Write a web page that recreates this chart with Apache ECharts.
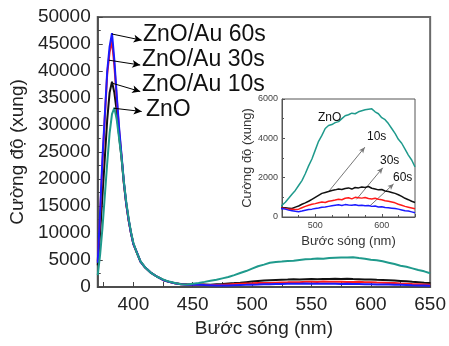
<!DOCTYPE html>
<html>
<head>
<meta charset="utf-8">
<script src="https://cdn.jsdelivr.net/npm/echarts@6/dist/echarts.min.js"></script>
<style>
  html, body { margin: 0; padding: 0; background: #fff; }
  #chart { width: 449px; height: 346px; }
</style>
</head>
<body>
<div id="chart"></div>
<script>
// wavelengths (nm)
var wl = [370, 372, 374, 376, 378, 380, 382, 384, 386, 388, 390, 392, 394, 396, 398, 400, 403, 406, 410, 415, 420, 425, 430, 435, 440, 445,
  450, 455, 460, 465, 470, 475, 480, 485, 490, 495, 500, 505, 510, 515, 520, 525, 530, 535, 540, 545, 550,
  555, 560, 565, 570, 575, 580, 585, 590, 595, 600, 605, 610, 615, 620, 625, 630, 635, 640, 645, 650]

var zno = [2200, 6000, 11000, 17000, 23000, 28500, 32000, 33200, 31000, 27500, 24000, 19500, 15800, 12700, 10200, 8200, 6300, 4800, 3600, 2600, 1900, 1400, 1000, 750, 500, 450,
  600, 750, 950, 1160, 1350, 1600, 1850, 2200, 2600, 2950, 3400, 3850, 4150, 4500, 4650, 4700, 4800, 4850, 5000, 5150, 5200,
  5280, 5250, 5350, 5400, 5450, 5480, 5500, 5350, 5250, 5050, 4950, 4750, 4500, 4250, 3950, 3750, 3450, 3150, 2900, 2550]

var au10 = [4000, 10000, 17000, 24000, 31000, 36000, 38000, 36000, 32500, 28000, 24000, 19200, 15400, 12400, 10000, 8000, 6300, 4700, 3600, 2600, 1900, 1300, 950, 700, 560, 500,
  480, 470, 450, 430, 500, 560, 650, 720, 800, 900, 1000, 1100, 1200, 1250, 1300, 1350, 1380, 1420, 1400, 1450, 1480,
  1420, 1500, 1480, 1530, 1500, 1550, 1460, 1420, 1380, 1400, 1320, 1300, 1250, 1200, 1130, 1050, 950, 880, 800, 740]

var au30 = [4700, 13500, 23000, 31500, 39500, 43500, 45600, 41000, 35000, 29000, 24300, 19300, 15400, 12400, 10000, 8000, 6300, 4700, 3600, 2600, 1900, 1300, 950, 700, 520, 470,
  450, 430, 400, 390, 380, 400, 470, 540, 600, 650, 680, 720, 760, 740, 800, 830, 860, 900, 880, 950, 980,
  920, 1000, 980, 960, 990, 940, 920, 950, 900, 880, 830, 800, 760, 720, 650, 600, 540, 500, 460, 420]

var au60 = [4500, 14000, 24000, 32000, 40000, 44500, 47000, 42000, 35500, 29500, 24500, 19500, 15500, 12500, 10000, 8000, 6400, 4700, 3600, 2600, 1900, 1300, 950, 700, 500, 400,
  430, 400, 350, 320, 290, 270, 300, 340, 380, 400, 430, 460, 500, 510, 540, 570, 600, 620, 590, 630, 610,
  600, 620, 580, 600, 570, 580, 540, 560, 510, 520, 480, 470, 450, 430, 400, 360, 320, 300, 260, 220]

var mainXTicks = [375, 400, 425, 450, 475, 500, 525, 550, 575, 600, 625, 650]
var mainXLabels = [400, 450, 500, 550, 600, 650]
var insetXLabels = [500, 600]

var font = 'Liberation Sans, Arial, sans-serif'

function pairs(arr) {
  return wl.map(function (w, i) { return [w, arr[i]] })
}
function plain(v) { return String(v) }

var chart = echarts.init(document.getElementById('chart'))

var arrowLine = {
  silent: true,
  symbol: ['none', 'arrow'],
  symbolSize: [6, 8],
  label: { show: false },
  animation: false
}

var series = []
var defs = [
  { name: '10s', data: au10, color: '#111111' },
  { name: '30s', data: au30, color: '#ff1a1a' },
  { name: '60s', data: au60, color: '#1a1aff' },
  { name: 'ZnO', data: zno, color: '#1f9a8c' }
]
defs.forEach(function (d) {
  series.push({
    type: 'line', xAxisIndex: 0, yAxisIndex: 0, showSymbol: false,
    data: pairs(d.data), lineStyle: { color: d.color, width: 2 }, itemStyle: { color: d.color }
  })
})
defs.forEach(function (d) {
  series.push({
    type: 'line', xAxisIndex: 1, yAxisIndex: 1, showSymbol: false, clip: true, z: 10,
    data: pairs(d.data), lineStyle: { color: d.color, width: 1.5 }, itemStyle: { color: d.color }
  })
})

// arrows on the main plot
series[3].markLine = Object.assign({}, arrowLine, {
  lineStyle: { color: '#000', width: 1, type: 'solid' },
  data: [
    [{ coord: [382, 46850] }, { coord: [407, 45700] }],
    [{ coord: [379.4, 42000] }, { coord: [405.8, 41100] }],
    [{ coord: [382.8, 37700] }, { coord: [405.8, 36200] }],
    [{ coord: [383.6, 33100] }, { coord: [407, 32500] }]
  ]
})
// arrows in the inset
series[7].markLine = Object.assign({}, arrowLine, {
  symbolSize: [4, 6],
  lineStyle: { color: '#777', width: 1, type: 'solid' },
  data: [
    [{ coord: [521, 1330] }, { coord: [574.6, 3550] }],
    [{ coord: [562, 900] }, { coord: [601.5, 2500] }],
    [{ coord: [582, 560] }, { coord: [617.8, 1680] }]
  ]
})

function txt(s, x, y, size) {
  return {
    type: 'text', x: x, y: y, z: 100,
    style: { text: s, fontSize: size, fontFamily: font, fill: '#111', align: 'left', verticalAlign: 'middle' }
  }
}

chart.setOption({
  animation: false,
  backgroundColor: '#fff',
  grid: [
    { left: 97, top: 17, width: 336, height: 270, show: true, borderColor: '#6a6a6a', borderWidth: 2 },
    { left: 282, top: 99, width: 133, height: 118, show: true, backgroundColor: '#fff', borderColor: '#555', borderWidth: 1 }
  ],
  xAxis: [
    {
      type: 'value', gridIndex: 0, min: 370, max: 650,
      name: 'Bước sóng (nm)', nameLocation: 'middle', nameGap: 31,
      nameTextStyle: { fontSize: 19, fontFamily: font, color: '#222' },
      axisLine: { onZero: false, lineStyle: { color: '#444', width: 1.5 } },
      axisTick: { inside: true, length: 5, customValues: mainXTicks, lineStyle: { color: '#444' } },
      axisLabel: { customValues: mainXLabels, fontSize: 19, fontFamily: font, color: '#222', margin: 8 },
      splitLine: { show: false }
    },
    {
      type: 'value', gridIndex: 1, min: 450, max: 650, interval: 50,
      name: 'Bước sóng (nm)', nameLocation: 'middle', nameGap: 18,
      nameTextStyle: { fontSize: 13, fontFamily: font, color: '#333' },
      axisLine: { onZero: false, lineStyle: { color: '#555', width: 1 } },
      axisTick: { inside: true, length: 3, lineStyle: { color: '#555' } },
      minorTick: { show: true, splitNumber: 2, length: 2, lineStyle: { color: '#555' } },
      axisLabel: { customValues: insetXLabels, fontSize: 9, fontFamily: font, color: '#444', margin: 4, formatter: plain },
      splitLine: { show: false }
    }
  ],
  yAxis: [
    {
      type: 'value', gridIndex: 0, min: 0, max: 50000, interval: 5000,
      name: 'Cường độ (xung)', nameLocation: 'middle', nameGap: 70, nameRotate: 90,
      nameTextStyle: { fontSize: 19, fontFamily: font, color: '#222' },
      axisLine: { show: true, onZero: false, lineStyle: { color: '#444', width: 1.5 } },
      axisTick: { show: true, inside: true, length: 5, lineStyle: { color: '#444' } },
      minorTick: { show: true, splitNumber: 2, length: 3, lineStyle: { color: '#444' } },
      axisLabel: { fontSize: 19, fontFamily: font, color: '#222', margin: 7, formatter: plain },
      splitLine: { show: false }
    },
    {
      type: 'value', gridIndex: 1, min: 0, max: 6000, interval: 2000,
      name: 'Cường độ (xung)', nameLocation: 'middle', nameGap: 24, nameRotate: 90,
      nameTextStyle: { fontSize: 13, fontFamily: font, color: '#333' },
      axisLine: { show: true, onZero: false, lineStyle: { color: '#555', width: 1 } },
      axisTick: { show: true, inside: true, length: 3, lineStyle: { color: '#555' } },
      minorTick: { show: true, splitNumber: 2, length: 2, lineStyle: { color: '#555' } },
      axisLabel: { fontSize: 9, fontFamily: font, color: '#444', margin: 4, formatter: plain },
      splitLine: { show: false }
    }
  ],
  graphic: [
    txt('ZnO/Au 60s', 143, 35, 23),
    txt('ZnO/Au 30s', 142, 60, 23),
    txt('ZnO/Au 10s', 142, 85, 23),
    txt('ZnO', 146, 110, 23),
    txt('ZnO', 318, 118, 12),
    txt('10s', 367, 137, 12),
    txt('30s', 380, 160.5, 12),
    txt('60s', 393, 178, 12)
  ],
  series: series
})
</script>
</body>
</html>
